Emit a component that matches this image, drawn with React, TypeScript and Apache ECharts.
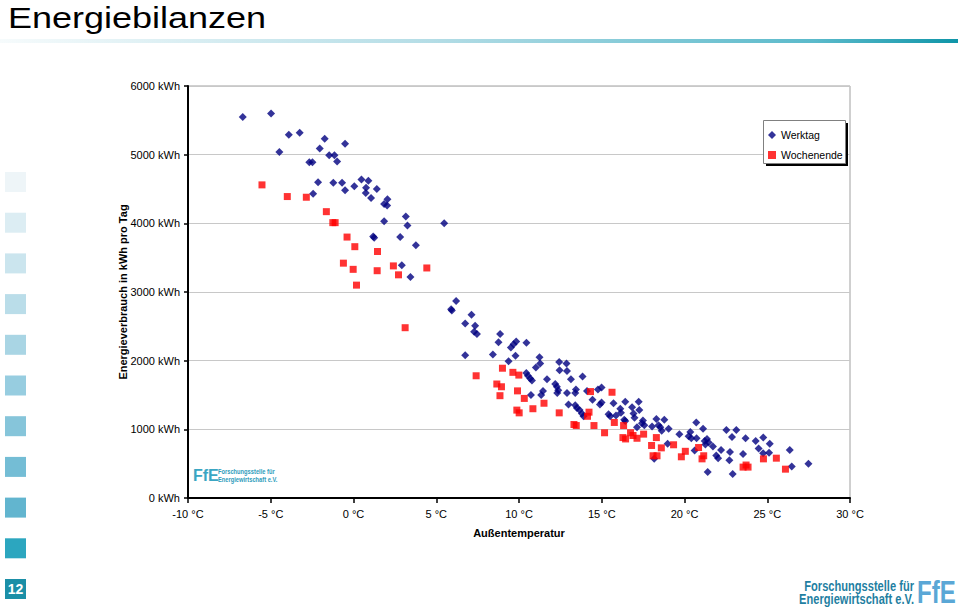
import React, { useEffect, useRef } from "react";
import * as echarts from "echarts";

// Werktag (weekday) points: outside temperature in °C, energy in kWh per day
const werktagTemp = [
  -6.69, -4.98, -3.91, -3.25, -4.48, -1.74, -2.04, -0.51, -1.47, -1.15, -2.67, -2.48, -0.99,
  -2.14, -1.22, -0.69, -2.44, -0.51, 0.05, 0.48, 0.9, 0.76, 1.41, 0.74, 1.06, 2.05, 1.85, 2.03,
  3.16, 3.26, 1.85, 5.48, 1.19, 1.25, 2.82, 3.77, 2.92, 3.44, 6.2, 5.9, 5.94, 7.13, 6.75, 7.35,
  7.29, 7.46, 8.86, 8.76, 6.75, 8.42, 9.51, 9.67, 9.83, 10.45, 9.79, 9.37, 11.24, 11.28, 11.02,
  12.43, 12.87, 12.45, 12.9, 10.44, 10.54, 10.68, 10.78, 11.69, 13.14, 13.84, 12.19, 12.29,
  12.37, 12.31, 11.45, 11.34, 10.72, 13.44, 13.4, 12.9, 14.11, 14.77, 14.99, 14.44, 14.99,
  14.89, 12.99, 13.4, 13.5, 13.66, 13.8, 13.9, 15.41, 15.71, 16.12, 16.42, 16.83, 16.98, 17.23,
  16.16, 15.51, 15.86, 16.92, 17.49, 16.42, 17.43, 17.57, 18.3, 18.78, 18.43, 18.54, 17.13,
  18.04, 19.04, 18.62, 20.71, 21.12, 19.69, 20.35, 20.25, 20.41, 20.73, 21.22, 21.36, 21.46,
  21.26, 22.53, 23.13, 22.87, 23.69, 24.3, 24.76, 25.15, 21.72, 22.21, 22.75, 23.54, 24.48,
  24.75, 25.11, 26.36, 20.61, 21.92, 22.03, 22.71, 18.17, 18.98, 21.4, 22.91, 26.48, 27.49,
  17.27, 16.36,
];
const werktagKwh = [
  5550, 5600, 5290, 5320, 5040, 5230, 5090, 5160, 4990, 4990, 4890, 4890, 4900,
  4600, 4590, 4590, 4430, 4480, 4540, 4640, 4620, 4520, 4500, 4440, 4370, 4350, 4280, 4260,
  4100, 3970, 4030, 4000, 3810, 3790, 3800, 3680, 3390, 3220, 2870, 2750, 2730, 2670, 2540, 2510,
  2420, 2390, 2390, 2270, 2080, 2090, 2190, 2240, 2280, 2260, 2070, 1990, 2050, 1960, 1900,
  1980, 1960, 1860, 1850, 1820, 1780, 1740, 1710, 1730, 1730, 1770, 1660, 1620,
  1570, 1530, 1560, 1500, 1500, 1580, 1530, 1530, 1560, 1580, 1610, 1430, 1390,
  1360, 1360, 1350, 1310, 1280, 1230, 1190, 1220, 1380, 1300, 1400, 1320, 1170, 1400,
  1240, 1190, 1200, 1230, 1130, 1120, 1090, 1060, 1150, 1140, 1060, 1030, 1030,
  1040, 1010, 980, 1100, 1010, 930, 960, 900, 870, 870, 830, 860, 810,
  780, 990, 990, 890, 870, 830, 880, 790, 750, 700, 670, 640, 720,
  650, 660, 700, 690, 620, 580, 550, 570, 790, 380, 350, 460, 500,
  1280, 1140,
];

// Wochenende (weekend) points
const wochenendeTemp = [
  -5.53, -4.0, -2.85, -1.64, -1.25, -1.11, -0.39, 0.08, 1.45, -0.61, -0.02, 1.43, 2.41, 2.72,
  4.43, 0.18, 3.12, 7.41, 9.0, 9.63, 9.99, 8.66, 8.94, 8.85, 9.91, 10.32, 10.84, 11.51, 9.87,
  10.01, 12.43, 14.32, 15.62, 14.23, 14.14, 13.32, 13.46, 14.53, 15.76, 15.17, 16.32, 16.28,
  16.74, 16.89, 16.44, 17.13, 17.53, 18.3, 18.01, 18.6, 19.34, 18.1, 18.34, 20.05, 19.81, 20.85,
  21.16, 21.06, 23.54, 23.72, 23.84, 24.77, 25.55, 26.1,
];
const wochenendeKwh = [
  4560, 4390, 4380, 4170, 4010, 4010, 3800, 3660, 3590, 3420, 3330, 3310, 3380, 3250,
  3350, 3100, 2480, 1780, 1890, 1830, 1790, 1660, 1620, 1490, 1560, 1450, 1300, 1380, 1280,
  1240, 1240, 1550, 1540, 1250, 1190, 1070, 1055, 1055, 1100, 950, 1055, 880,
  950, 910, 860, 870, 930, 880, 765, 730, 775, 615, 615, 680, 600, 735,
  615, 570, 450, 480, 450, 570, 580, 420,
];

const xTicks = { min: -10, max: 30, interval: 5 };
const yTicks = { min: 0, max: 6000, interval: 1000 };

const seriesNames = ["Werktag", "Wochenende"];
const titleText = "Energiebilanzen";
const xAxisName = "Außentemperatur";
const yAxisName = "Energieverbrauch in kWh pro Tag";
const pageNumber = "12";
const orgLine1 = "Forschungsstelle für";
const orgLine2 = "Energiewirtschaft e.V.";

const sideSquareColors = [
  "#eef5f8", "#dcedf3", "#cbe5ee", "#badde9", "#a9d5e4", "#97cde0",
  "#86c5da", "#74bdd5", "#62b5cf", "#2ca6bf", "#1b8fa7",
];

const FONT = "'Liberation Sans', Arial, Helvetica, sans-serif";

export default function App() {
  const ref = useRef<HTMLDivElement>(null);

  useEffect(() => {
    if (!ref.current) return;
    const chart = echarts.init(ref.current, null, { renderer: "svg" });

    const werktagData = werktagTemp.map((t, i) => [t, werktagKwh[i]]);
    const wochenendeData = wochenendeTemp.map((t, i) => [t, wochenendeKwh[i]]);

    const squares: any[] = sideSquareColors.map((c, i) => ({
      type: "rect",
      shape: { x: 5, y: 172 + i * 40.7, width: 21, height: 20 },
      style: { fill: c },
      z: 1,
    }));

    const graphics: any[] = [
      {
        type: "text",
        x: 8,
        y: 3,
        scaleX: 1.2,
        style: {
          text: titleText,
          fontSize: 30,
          fontFamily: FONT,
          fill: "#000",
          align: "left",
          verticalAlign: "top",
        },
        z: 1,
      },
      {
        type: "rect",
        shape: { x: 0, y: 39, width: 958, height: 4 },
        style: {
          fill: new echarts.graphic.LinearGradient(0, 0, 1, 0, [
            { offset: 0, color: "#f6fbfc" },
            { offset: 0.45, color: "#b4dde6" },
            { offset: 0.85, color: "#5bbacb" },
            { offset: 1, color: "#0f95a8" },
          ]),
        },
        z: 1,
      },
      ...squares,
      {
        type: "text",
        x: 15.5,
        y: 589,
        style: {
          text: pageNumber,
          fontSize: 14,
          fontWeight: "bold",
          fontFamily: FONT,
          fill: "#fff",
          align: "center",
          verticalAlign: "middle",
        },
        z: 2,
      },
      // legend box with shadow
      {
        type: "rect",
        shape: { x: 766, y: 123, width: 82, height: 43 },
        style: { fill: "#000" },
        z: 5,
      },
      {
        type: "rect",
        shape: { x: 763.5, y: 120.5, width: 82, height: 43 },
        style: { fill: "#fff", stroke: "#808080", lineWidth: 1 },
        z: 6,
      },
      // small logo inside plot
      {
        type: "text",
        x: 193,
        y: 475,
        style: {
          text: "FfE",
          fontSize: 16,
          fontWeight: 900,
          fontFamily: FONT,
          fill: "#3aa6c3",
          align: "left",
          verticalAlign: "middle",
        },
        z: 6,
      },
      {
        type: "text",
        x: 218,
        y: 471,
        scaleX: 0.82,
        style: {
          text: orgLine1,
          fontSize: 7,
          fontWeight: "bold",
          fontFamily: FONT,
          fill: "#2d9cbb",
          align: "left",
          verticalAlign: "middle",
        },
        z: 6,
      },
      {
        type: "text",
        x: 218,
        y: 479,
        scaleX: 0.82,
        style: {
          text: orgLine2,
          fontSize: 7,
          fontWeight: "bold",
          fontFamily: FONT,
          fill: "#2d9cbb",
          align: "left",
          verticalAlign: "middle",
        },
        z: 6,
      },
      // bottom right logo
      {
        type: "text",
        x: 914,
        y: 586,
        scaleX: 0.74,
        style: {
          text: orgLine1,
          fontSize: 15,
          fontWeight: "bold",
          fontFamily: FONT,
          fill: "#1f7fa2",
          align: "right",
          verticalAlign: "middle",
        },
        z: 6,
      },
      {
        type: "text",
        x: 914,
        y: 599,
        scaleX: 0.74,
        style: {
          text: orgLine2,
          fontSize: 15,
          fontWeight: "bold",
          fontFamily: FONT,
          fill: "#1f7fa2",
          align: "right",
          verticalAlign: "middle",
        },
        z: 6,
      },
      {
        type: "text",
        x: 917,
        y: 592,
        scaleX: 0.8,
        scaleY: 1.05,
        style: {
          text: "FfE",
          fontSize: 30,
          fontWeight: 900,
          fontFamily: FONT,
          fill: "#5aa7d6",
          align: "left",
          verticalAlign: "middle",
        },
        z: 6,
      },
    ];

    chart.setOption({
      animation: false,
      backgroundColor: "#ffffff",
      textStyle: { fontFamily: FONT },
      grid: {
        left: 188,
        right: 110,
        top: 86,
        bottom: 111,
        show: true,
        borderColor: "#a0a0a0",
        borderWidth: 1,
        backgroundColor: "transparent",
      },
      legend: {
        data: seriesNames,
        orient: "vertical",
        left: 768,
        top: 129,
        padding: 0,
        itemWidth: 8,
        itemHeight: 8,
        itemGap: 8,
        z: 10,
        textStyle: { fontSize: 10.5, color: "#000", fontFamily: FONT, lineHeight: 12 },
      },
      xAxis: {
        type: "value",
        min: xTicks.min,
        max: xTicks.max,
        interval: xTicks.interval,
        name: xAxisName,
        nameLocation: "middle",
        nameGap: 29,
        nameMoveOverlap: false,
        nameTextStyle: { fontSize: 11, fontWeight: "bold", color: "#000", fontFamily: FONT },
        axisLine: { onZero: false, lineStyle: { color: "#000", width: 2 } },
        axisTick: { show: true, inside: false, length: 5, lineStyle: { color: "#000", width: 1.5 } },
        axisLabel: {
          fontSize: 11,
          color: "#000",
          margin: 10,
          fontFamily: FONT,
          formatter: (v: number) => `${v} °C`,
        },
        splitLine: { show: false },
      },
      yAxis: {
        type: "value",
        min: yTicks.min,
        max: yTicks.max,
        interval: yTicks.interval,
        name: yAxisName,
        nameLocation: "middle",
        nameRotate: 90,
        nameGap: 60,
        nameMoveOverlap: false,
        nameTextStyle: { fontSize: 11, fontWeight: "bold", color: "#000", fontFamily: FONT },
        axisLine: { show: true, onZero: false, lineStyle: { color: "#000", width: 2 } },
        axisTick: { show: true, inside: false, length: 4, lineStyle: { color: "#000", width: 1.5 } },
        axisLabel: {
          fontSize: 11,
          color: "#000",
          margin: 8,
          fontFamily: FONT,
          formatter: (v: number) => `${v} kWh`,
        },
        splitLine: { show: true, lineStyle: { color: "#c8c8c8", width: 1 } },
      },
      series: [
        {
          name: seriesNames[0],
          type: "scatter",
          symbol: "diamond",
          symbolSize: 8,
          itemStyle: { color: "#000080" },
          data: werktagData,
          z: 3,
        },
        {
          name: seriesNames[1],
          type: "scatter",
          symbol: "rect",
          symbolSize: 7,
          itemStyle: { color: "#ff0000" },
          data: wochenendeData,
          z: 4,
        },
      ],
      graphic: graphics,
    });

    return () => chart.dispose();
  }, []);

  return (
    <div
      ref={ref}
      style={{ position: "fixed", left: 0, top: 0, width: 960, height: 609, background: "#fff" }}
    />
  );
}
